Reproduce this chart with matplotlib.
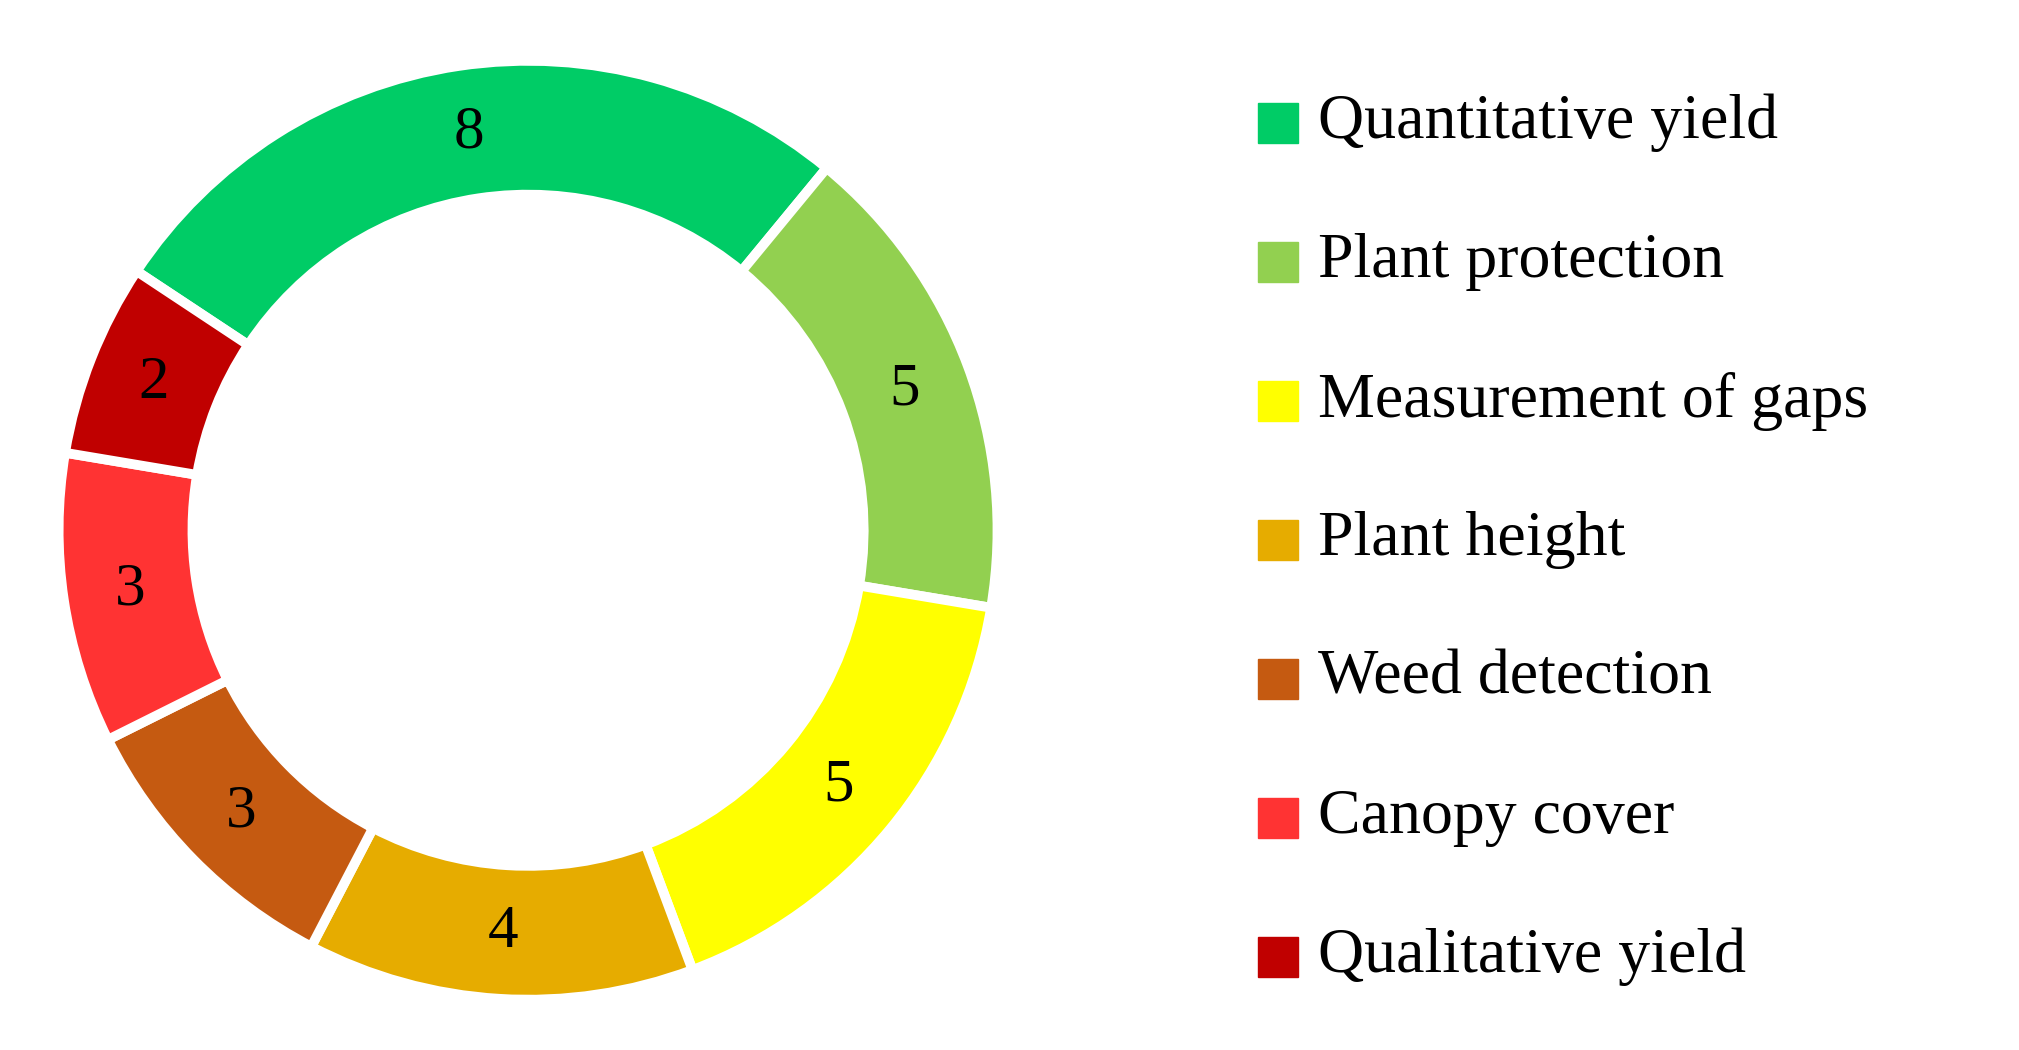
import matplotlib
matplotlib.use("Agg")
import matplotlib.pyplot as plt
from matplotlib.patches import Rectangle

categories = ["Quantitative yield", "Plant protection", "Measurement of gaps",
              "Plant height", "Weed detection", "Canopy cover", "Qualitative yield"]
values = [8, 5, 5, 4, 3, 3, 2]
colors = ["#00CC66", "#92D050", "#FFFF00", "#E6AC00", "#C55A11", "#FF3333", "#C00000"]

plt.rcParams['font.family'] = ['Liberation Serif', 'DejaVu Serif']
fig = plt.figure(figsize=(20.19, 10.5), dpi=100)
ax = fig.add_axes([0.0243, 0.039, 0.4745, 0.912])
wedges, texts = ax.pie(values, colors=colors, startangle=146.5, counterclock=False,
                       radius=1.0, wedgeprops=dict(width=0.285, edgecolor='white', linewidth=7))
total = sum(values)
import numpy as np
ang = 146.5
for v, w in zip(values, wedges):
    mid = np.deg2rad(ang - v / total * 360 / 2)
    ax.text(0.857 * np.cos(mid), 0.857 * np.sin(mid), str(v), ha='center', va='center', fontsize=44)
    ang -= v / total * 360
ax.set_xlim(-1.02, 1.02); ax.set_ylim(-1.02, 1.02); ax.set_aspect('equal'); ax.axis('off')

W, H = 2019, 1050
for i, (c, col) in enumerate(zip(categories, colors)):
    yc = 123 + i * 139
    fig.patches.append(Rectangle(((1258) / W, 1 - (yc + 20) / H), 40 / W, 40 / H,
                                 transform=fig.transFigure, color=col))
    fig.text(1318 / W, 1 - yc / H, c, ha='left', va='center', fontsize=46)
fig.savefig("out.png", dpi=100, facecolor='white')
